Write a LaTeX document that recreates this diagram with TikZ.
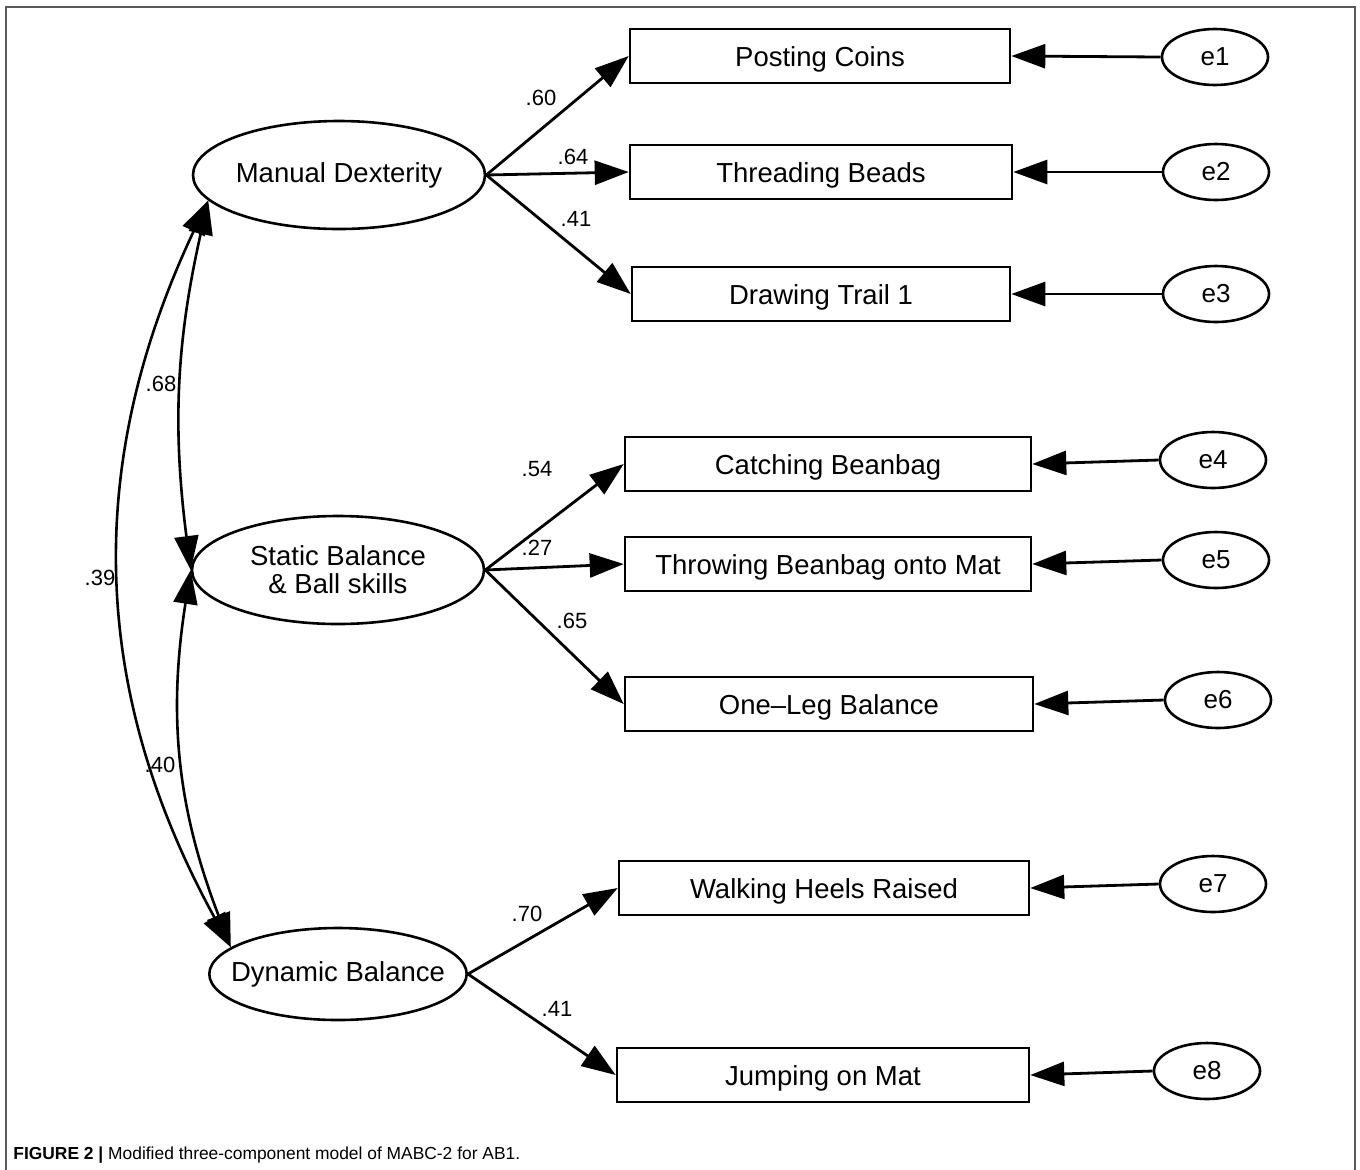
\documentclass[tikz,border=0pt]{standalone}
\usepackage{fontspec}
\setmainfont{Liberation Sans}
\usetikzlibrary{shapes.geometric,arrows.meta}

\tikzset{
  latent/.style={ellipse, draw, line width=1.3pt, minimum width=146pt, minimum height=54pt,
    inner xsep=-8pt, inner ysep=0pt, align=center, font=\fontsize{13.75}{14}\selectfont},
  obs/.style={rectangle, draw, line width=1.3pt, minimum height=27pt, inner sep=0pt,
    text height=10pt, text depth=0pt, font=\fontsize{13.75}{14}\selectfont},
  err/.style={ellipse, draw, line width=1.3pt, minimum width=53pt, minimum height=28pt,
    inner sep=0pt, font=\fontsize{13}{14}\selectfont},
  load/.style={-{Triangle[length=17pt,width=12pt]}, line width=1.4pt},
  cov/.style={{Triangle[length=17pt,width=12pt]}-{Triangle[length=17pt,width=12pt]}, line width=1.3pt},
  coef/.style={inner sep=0pt, font=\fontsize{11}{12}\selectfont}
}

\begin{document}
\begin{tikzpicture}[x=0.5pt,y=-0.5pt]
\useasboundingbox (0,0) rectangle (1360,1169);
\draw [black!65, line width=0.8pt] (6,1180) -- (6,7) -- (1355,7) -- (1355,1180);
% latent factors
\node [latent] (md) at (339,175) {Manual Dexterity};
\node [latent] (sb) at (338,570) {Static Balance\\\& Ball skills};
\node [latent, minimum width=128pt, minimum height=46pt] (db) at (338,974) {Dynamic Balance};
% observed tasks
\node [obs, minimum width=190pt] (pc) at (820,56) {Posting Coins};
\node [obs, minimum width=191pt] (tb) at (821,172) {Threading Beads};
\node [obs, minimum width=189pt] (dt) at (821,294) {Drawing Trail 1};
\node [obs, minimum width=203pt] (cb) at (828,464) {Catching Beanbag};
\node [obs, minimum width=203pt] (tm) at (828,564) {Throwing Beanbag onto Mat};
\node [obs, minimum width=204pt] (ol) at (829,704) {One--Leg Balance};
\node [obs, minimum width=205pt] (wh) at (824,888) {Walking Heels Raised};
\node [obs, minimum width=206pt] (jm) at (823,1075) {Jumping on Mat};
% errors
\node [err] (e1) at (1215,57) {e1};
\node [err] (e2) at (1216,172) {e2};
\node [err] (e3) at (1216,294) {e3};
\node [err] (e4) at (1213,460) {e4};
\node [err] (e5) at (1216,560) {e5};
\node [err] (e6) at (1218,700) {e6};
\node [err] (e7) at (1213,884) {e7};
\node [err] (e8) at (1207,1071) {e8};
% loadings
\draw [load] (md.east) -- (pc.west);
\draw [load] (md.east) -- (tb.west);
\draw [load] (md.east) -- (dt.west);
\draw [load] (sb.east) -- (cb.west);
\draw [load] (sb.east) -- (tm.west);
\draw [load] (sb.east) -- (ol.west);
\draw [load] (db.east) -- (wh.west);
\draw [load] (db.east) -- (jm.west);
\foreach \e/\t in {e1/pc,e2/tb,e3/dt,e4/cb,e5/tm,e6/ol,e7/wh,e8/jm}
  \draw [load] (\e.west) -- (\t.east);
% correlations
\draw [cov] (md.191) to [bend right=10] (sb.west);
\draw [cov] (sb.west) to [bend right=15] (db.166);
\draw [cov] (md.191) to [bend right=27] (db.166);
% coefficients
\node [coef] (c1) at (541,98) {.60};
\node [coef] (c2) at (573,157) {.64};
\node [coef] (c3) at (576,219) {.41};
\node [coef] (c4) at (537,469) {.54};
\node [coef] (c5) at (537,548) {.27};
\node [coef] (c6) at (572,621) {.65};
\node [coef] (c7) at (527,914) {.70};
\node [coef] (c8) at (557,1009) {.41};
\node [coef] (r1) at (161,384) {.68};
\node [coef] (r2) at (100,578) {.39};
\node [coef] (r3) at (160,765) {.40};
% caption
\node [anchor=west, inner sep=0pt, font=\fontsize{8.7}{10}\selectfont] (cap) at (13,1155)
  {\textbf{FIGURE 2 |} Modified three-component model of MABC-2 for AB1.};
\end{tikzpicture}
\end{document}
